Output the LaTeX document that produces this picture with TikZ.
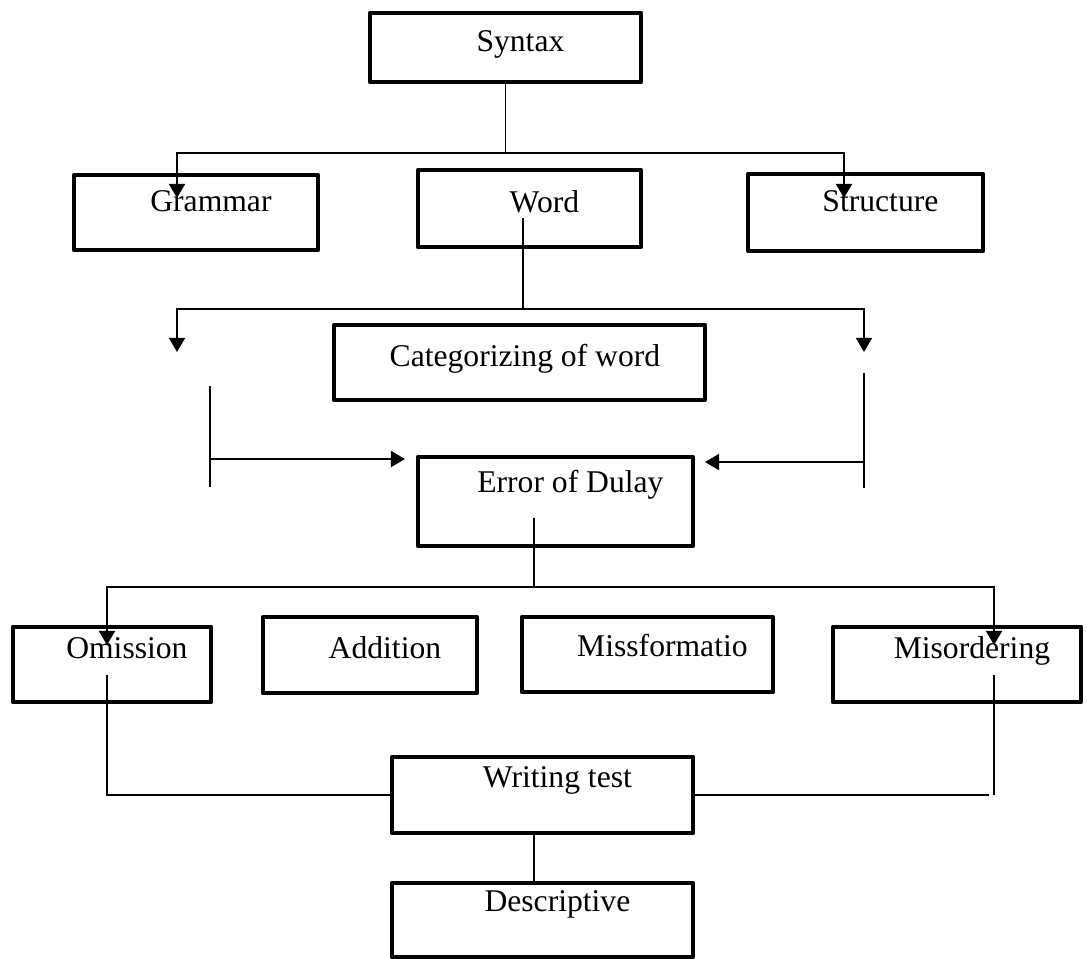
\documentclass[tikz,border=0pt]{standalone}
\usepackage{fontspec}
\setmainfont{Liberation Serif}
\usetikzlibrary{arrows.meta}
\tikzset{
    box/.style = {draw, line width=2.5pt, line join=round, inner sep=0pt,
        text height=12pt, font=\fontsize{18}{21}\selectfont,
        execute at begin node={\hspace*{#1}}},
    box/.default = 17pt,
    stem line/.style = {line width=0.8pt},
    arrow line/.style = {line width=1.3pt, >={Triangle[width=9pt, length=8pt]}}
}

\begin{document}
\begin{tikzpicture}[x=0.02cm, y=-0.02cm]
    \useasboundingbox (0, 0) rectangle (1087, 958);
    % draw boxes
    \node[box, minimum width=5.42cm, minimum height=1.38cm, text depth=6.9pt] (syntax) at (505.5, 47.5) {Syntax};
    \node[box, minimum width=4.88cm, minimum height=1.5cm, text depth=12.6pt] (grammar) at (196, 212.5) {Grammar};
    \node[box, minimum width=4.46cm, minimum height=1.54cm, text depth=8pt] (word) at (529.5, 208.5) {Word};
    \node[box, minimum width=4.7cm, minimum height=1.54cm, text depth=12.6pt] (structure) at (865.5, 212.5) {Structure};
    \node[box=6.2pt, minimum width=7.42cm, minimum height=1.5cm, text depth=6.9pt] (categorizing) at (519.5, 362.5) {Categorizing of word};
    \node[box, minimum width=5.5cm, minimum height=1.78cm, text depth=22.8pt] (error) at (555.5, 501.5) {Error of Dulay};
    \node[box, minimum width=3.96cm, minimum height=1.5cm, text depth=19.4pt] (omission) at (112, 664.5) {Omission};
    \node[box, minimum width=4.28cm, minimum height=1.52cm, text depth=8.6pt] (addition) at (370, 655) {Addition};
    \node[box, minimum width=5.02cm, minimum height=1.5cm, text depth=9.2pt] (missformatio) at (647.5, 654.5) {Missformatio};
    \node[box, minimum width=4.96cm, minimum height=1.5cm, text depth=19.4pt] (misordering) at (957, 664.5) {Misordering};
    \node[box, minimum width=6.02cm, minimum height=1.52cm, text depth=21.1pt] (writing) at (542.5, 795) {Writing test};
    \node[box, minimum width=6.02cm, minimum height=1.48cm, text depth=22.2pt] (descriptive) at (542.5, 920) {Descriptive};
    % split points and free ends
    \coordinate (syntax split) at (505.5, 153);
    \coordinate (grammar tip) at (177, 198);
    \coordinate (structure tip) at (844, 198);
    \coordinate (word start) at (523, 218);
    \coordinate (word split) at (523, 309);
    \coordinate (left tip) at (177, 352);
    \coordinate (right tip) at (864, 352);
    \coordinate (left top) at (210, 386);
    \coordinate (left bottom) at (210, 487);
    \coordinate (left end) at (405, 459);
    \coordinate (right top) at (864, 373);
    \coordinate (right bottom) at (864, 488);
    \coordinate (right end) at (705, 462);
    \coordinate (error start) at (534, 518);
    \coordinate (error split) at (534, 587);
    \coordinate (omission tip) at (107, 645);
    \coordinate (misordering tip) at (994, 645);
    \coordinate (omission start) at (107, 675);
    \coordinate (misordering start) at (994, 675);
    \coordinate (misordering end) at (989, 795);
    % syntax branches
    \draw[stem line] (syntax) -- (syntax split);
    \draw[arrow line, <->] (grammar tip) |- (syntax split) -| (structure tip);
    % word branches
    \draw[stem line] (word start) -- (word split);
    \draw[arrow line, <->] (left tip) |- (word split) -| (right tip);
    % side bars into error of dulay
    \draw[stem line] (left top) -- (left bottom);
    \draw[arrow line, ->] (left top |- left end) -- (left end);
    \draw[stem line] (right top) -- (right bottom);
    \draw[arrow line, ->] (right top |- right end) -- (right end);
    % error branches
    \draw[stem line] (error start) -- (error split);
    \draw[arrow line, <->] (omission tip) |- (error split) -| (misordering tip);
    % into writing test
    \draw[stem line] (omission start) |- (writing);
    \draw[stem line] (misordering start) -- (misordering start |- writing);
    \draw[stem line] (writing) -- (misordering end);
    \draw[stem line] (writing.south -| error start) -- (descriptive.north -| error start);
\end{tikzpicture}
\end{document}
